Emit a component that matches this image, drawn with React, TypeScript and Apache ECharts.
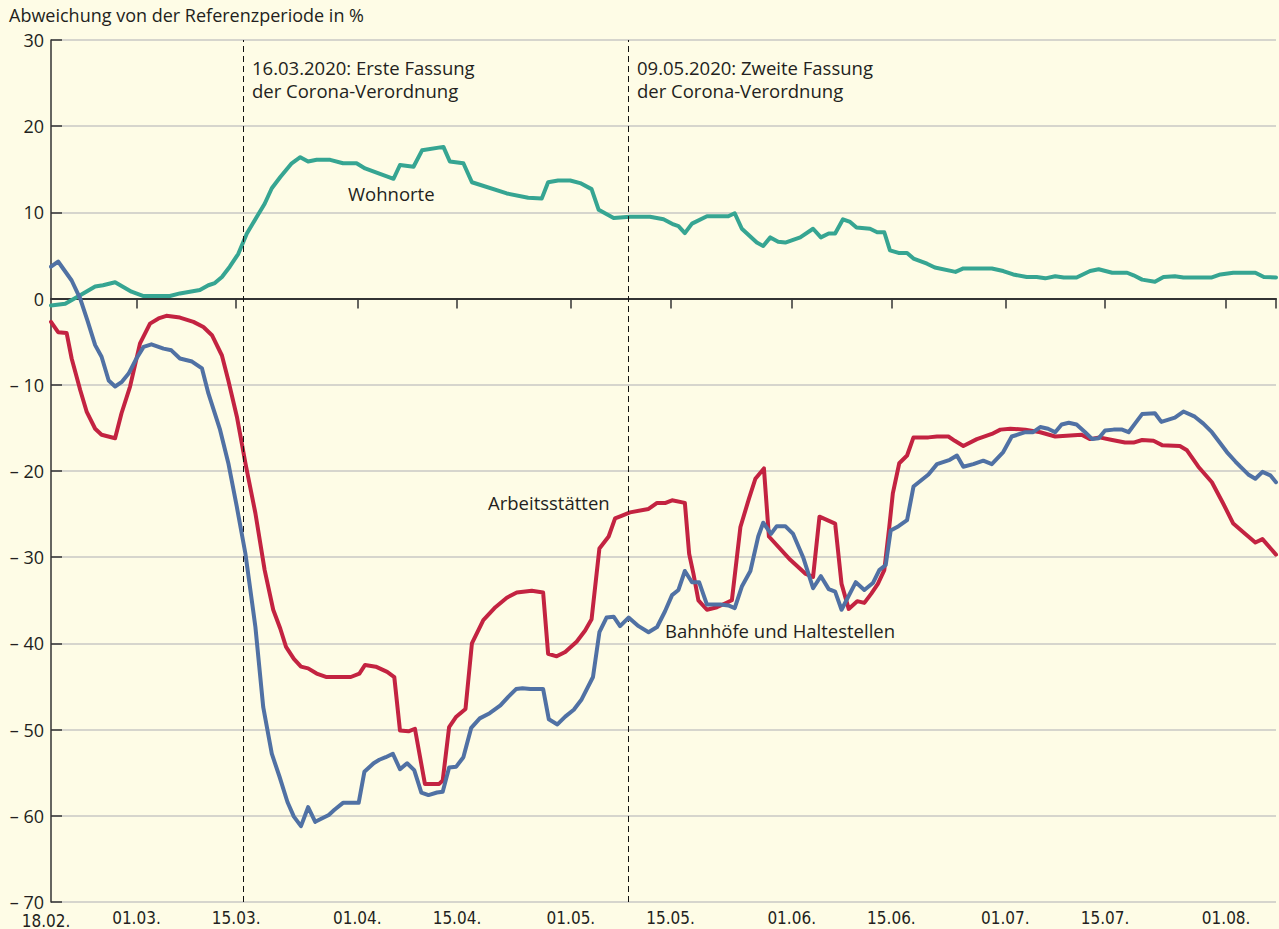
import React, { useEffect, useRef } from "react";
import * as echarts from "echarts";

// x = days since 18.02.2020
const tickDays = [0, 12, 26, 43, 57, 73, 87, 104, 118, 134, 148, 165];
const tickLabels = ["18.02.", "01.03.", "15.03.", "01.04.", "15.04.", "01.05.", "15.05.", "01.06.", "15.06.", "01.07.", "15.07.", "01.08."];
const xMax = 172; // 08.08.
const eventDays = [27, 81]; // 16.03.2020, 09.05.2020
const eventTexts = [
  "16.03.2020: Erste Fassung\nder Corona-Verordnung",
  "09.05.2020: Zweite Fassung\nder Corona-Verordnung",
];
const seriesNames = ["Wohnorte", "Arbeitsstätten", "Bahnhöfe und Haltestellen"];
const yTicks = [-70, -60, -50, -40, -30, -20, -10, 0, 10, 20, 30];

const wohnorte: [number, number][] = [
  [0, -0.8], [2, -0.6], [4.1, 0.4], [6.2, 1.4], [7.3, 1.55], [9, 1.9], [11.3, 0.8], [13, 0.3], [16.7, 0.3], [18.1, 0.6],
  [20.9, 1.0], [22.1, 1.55], [23, 1.8], [24, 2.5], [25.1, 3.7], [26.3, 5.2], [27.5, 7.55], [28.9, 9.5], [30, 11.0], [31, 12.8],
  [32.2, 14.1], [33.8, 15.7], [35, 16.4], [36.1, 15.9], [37.3, 16.1], [39.2, 16.1], [41, 15.7], [42.9, 15.7], [44.1, 15.1], [48.1, 13.9],
  [49, 15.5], [50.9, 15.3], [52.1, 17.2], [55.1, 17.6], [56, 15.9], [57.9, 15.7], [59.1, 13.5], [64, 12.2], [67, 11.7], [68.9, 11.6],
  [69.8, 13.5], [71.2, 13.7], [72.9, 13.7], [74.3, 13.4], [75.9, 12.7], [76.9, 10.3], [79, 9.35], [81.3, 9.5], [84.1, 9.5], [86, 9.2],
  [87.4, 8.6], [88.1, 8.4], [89, 7.6], [90, 8.7], [92.1, 9.55], [95.1, 9.55], [96, 9.9], [97, 8.1], [99.1, 6.5], [100, 6.1],
  [101, 7.1], [102.1, 6.6], [103.1, 6.5], [105.2, 7.1], [107, 8.1], [108.1, 7.1], [109.2, 7.55], [110.1, 7.55], [111.2, 9.2], [112.2, 8.9],
  [113.1, 8.25], [115, 8.1], [116, 7.7], [117, 7.7], [117.8, 5.6], [119, 5.3], [120.2, 5.3], [121.1, 4.65], [123, 4.05], [124.1, 3.6],
  [127, 3.1], [128.1, 3.5], [132.1, 3.5], [133.7, 3.2], [135.1, 2.8], [137, 2.5], [138.4, 2.5], [139.6, 2.35], [141, 2.6], [142.2, 2.45],
  [144, 2.45], [145.9, 3.2], [147.1, 3.4], [149, 3.0], [151.1, 3.0], [152, 2.7], [153.2, 2.2], [155, 1.95], [156.2, 2.5], [157.8, 2.6],
  [159, 2.45], [163, 2.45], [164.2, 2.8], [166, 3.0], [169.1, 3.0], [170.3, 2.5], [172, 2.45],
];

const arbeitsstaetten: [number, number][] = [
  [0, -2.7], [1, -3.9], [2.2, -4.0], [2.9, -6.95], [4.1, -10.6], [5, -13.1], [6.2, -15.1], [7.1, -15.8], [9, -16.2], [9.9, -13.3],
  [11.1, -10.2], [12.5, -5.2], [13.9, -2.9], [15.1, -2.3], [16.2, -2.0], [18.1, -2.2], [20, -2.7], [21.4, -3.3], [22.6, -4.25], [24, -6.6],
  [24.9, -9.5], [26.1, -13.7], [27.3, -19.1], [28.7, -24.9], [30, -31.5], [31.2, -36.1], [32.2, -38.3], [33, -40.4], [34.1, -41.8], [35.1, -42.7],
  [36.1, -42.9], [37.3, -43.5], [38.7, -43.9], [42.1, -43.9], [43.3, -43.5], [44.1, -42.5], [45.6, -42.7], [47.2, -43.3], [48.2, -43.9], [49, -50.1],
  [50.2, -50.2], [51.1, -49.9], [52.5, -56.3], [54.5, -56.3], [55, -55.9], [55.9, -49.7], [56.9, -48.5], [58.2, -47.6], [59.1, -40.0], [60.7, -37.3],
  [62.4, -35.8], [64, -34.7], [65.4, -34.1], [67.5, -33.9], [69.1, -34.1], [69.8, -41.2], [71, -41.5], [72.2, -41.0], [73.8, -39.8], [75, -38.5],
  [75.9, -37.2], [77, -29.0], [78.3, -27.6], [79.2, -25.5], [80.1, -25.2], [81.3, -24.8], [83.9, -24.4], [85.1, -23.7], [86.3, -23.7], [87.2, -23.4],
  [89, -23.7], [89.6, -29.6], [90.2, -31.9], [90.9, -35.0], [92.1, -36.1], [93.5, -35.8], [95.6, -35.0], [96.8, -26.5], [98, -23.2], [98.9, -20.9],
  [100.1, -19.7], [100.8, -27.6], [103.8, -30.3], [105.9, -31.9], [107, -32.3], [107.9, -25.3], [110.1, -26.1], [111, -33.1], [112, -36.0], [113.2, -35.1],
  [114.2, -35.3], [115.2, -34.2], [116.1, -33.1], [117, -31.5], [117.7, -26.5], [118.2, -22.6], [119.1, -19.1], [120.2, -18.2], [121.1, -16.1], [123.2, -16.1],
  [124.4, -16.0], [126, -16.0], [126.9, -16.5], [128.1, -17.1], [130, -16.3], [132.1, -15.7], [133.3, -15.2], [134.7, -15.1], [136.8, -15.2], [138.9, -15.5],
  [141, -16.0], [144.7, -15.8], [145.9, -16.3], [147.2, -16.1], [149, -16.4], [150.8, -16.7], [152, -16.7], [153.2, -16.4], [154.8, -16.5], [156, -17.0],
  [158.5, -17.1], [159.5, -17.6], [161.1, -19.5], [163, -21.3], [164.6, -23.8], [166, -26.1], [167.7, -27.3], [169.1, -28.3], [170.1, -27.9], [172, -29.7],
];

const bahnhoefe: [number, number][] = [
  [0, 3.7], [1, 4.3], [2.9, 2.1], [4.1, 0], [5.1, -2.5], [6.2, -5.4], [7.1, -6.75], [8.1, -9.5], [9, -10.2], [9.9, -9.7],
  [10.9, -8.7], [12, -6.95], [13, -5.6], [14.1, -5.3], [15.8, -5.8], [16.9, -6.0], [18.1, -6.95], [19.8, -7.3], [21.2, -8.1], [22.1, -11.0],
  [23.7, -15.1], [24.9, -19.1], [26.1, -24.2], [27.3, -29.6], [28.7, -38.1], [29.8, -47.4], [31, -52.8], [32.1, -55.5], [33.2, -58.4], [34.1, -60.1],
  [35.1, -61.2], [36.1, -59.0], [37.1, -60.7], [39, -59.9], [39.8, -59.3], [41, -58.5], [43.2, -58.5], [44, -54.9], [45.3, -53.9], [46.1, -53.5],
  [47, -53.2], [48, -52.8], [49, -54.6], [50, -53.9], [51, -54.7], [52, -57.3], [53, -57.6], [54.2, -57.3], [55, -57.2], [55.9, -54.4],
  [56.9, -54.3], [57.9, -53.2], [59, -49.8], [60.2, -48.7], [61.6, -48.1], [63.1, -47.2], [64.2, -46.2], [65.3, -45.3], [66.2, -45.2], [67.3, -45.3],
  [69.1, -45.3], [69.9, -48.8], [71.1, -49.4], [72.2, -48.5], [73.4, -47.7], [74.5, -46.5], [76.1, -43.9], [77, -38.7], [78, -37.0], [79, -36.9],
  [79.9, -38.0], [81.1, -37.0], [82.5, -38.0], [83.9, -38.7], [85.1, -38.1], [86.2, -36.3], [87.2, -34.4], [88.1, -33.8], [89, -31.6], [90, -32.9],
  [91, -32.9], [92.1, -35.5], [94, -35.5], [95.1, -35.6], [96, -35.9], [97, -33.4], [98.2, -31.6], [99.3, -27.6], [100, -26.0], [101.1, -27.3],
  [101.9, -26.4], [103.1, -26.4], [104.2, -27.3], [105.6, -30.0], [107, -33.6], [108.1, -32.2], [109.2, -33.7], [110.1, -34.0], [111, -36.1], [113, -32.9],
  [114.2, -33.8], [115.4, -33.0], [116.3, -31.5], [117.2, -30.9], [117.9, -26.9], [119, -26.4], [120.2, -25.7], [121.1, -21.8], [123.2, -20.4], [124.4, -19.2],
  [126.2, -18.7], [127.2, -18.2], [128.1, -19.5], [129.5, -19.2], [130.9, -18.8], [132.1, -19.2], [133.7, -17.8], [134.9, -16.0], [136.8, -15.5], [137.9, -15.5],
  [138.9, -14.9], [140, -15.1], [141, -15.5], [141.9, -14.6], [142.9, -14.4], [144, -14.6], [145.2, -15.5], [146.2, -16.3], [147.1, -16.2], [148, -15.3],
  [149.2, -15.2], [150.4, -15.2], [151.3, -15.5], [152.2, -14.5], [153.2, -13.4], [155, -13.3], [155.9, -14.3], [157.8, -13.8], [159, -13.1], [160.6, -13.7],
  [161.8, -14.5], [163, -15.5], [164.2, -16.8], [165.1, -17.8], [166.3, -18.9], [167, -19.5], [168.1, -20.4], [169.1, -20.9], [170.1, -20.1], [171.2, -20.5],
  [172, -21.3],
];

const FONT = "'Open Sans', 'Noto Sans', sans-serif";
const NARROW = "'Liberation Sans Narrow', 'DejaVu Sans Condensed', sans-serif";
const TEXT = "#231f20";
const BG = "#fefce6";

export default function App() {
  const ref = useRef<HTMLDivElement>(null);
  useEffect(() => {
    if (!ref.current) return;
    const chart = echarts.init(ref.current, null, { renderer: "svg" });
    const labelFor = (v: number) => {
      const i = tickDays.indexOf(v);
      if (i < 0) return "";
      return i === 0 ? "{first|" + tickLabels[i] + "}" : tickLabels[i];
    };
    const lineSeries = (name: string, data: [number, number][], color: string, z: number, extra: any = {}) => ({
      type: "line",
      name,
      data,
      showSymbol: false,
      symbol: "none",
      z,
      lineStyle: { color, width: 4, join: "round", cap: "round" },
      ...extra,
    });
    const txt = (s: string) => ({ text: s, font: "18.5px " + FONT, fill: TEXT, lineHeight: 23 });
    chart.setOption({
      animation: false,
      backgroundColor: BG,
      textStyle: { fontFamily: FONT },
      title: {
        text: "Abweichung von der Referenzperiode in %",
        left: 9,
        top: 6,
        padding: 0,
        textStyle: { fontSize: 18, fontWeight: "normal", color: TEXT, fontFamily: FONT },
      },
      grid: { left: 51, right: 3, top: 40, bottom: 26 },
      xAxis: [
        {
          type: "value",
          min: 0,
          max: xMax,
          position: "bottom",
          axisLine: { show: false, onZero: false },
          axisTick: { show: false },
          splitLine: { show: false },
          axisLabel: {
            customValues: tickDays,
            formatter: labelFor,
            margin: 8,
            fontSize: 17,
            lineHeight: 16,
            color: TEXT,
            fontFamily: NARROW,
            rich: { first: { padding: [5, 10, 0, 0], fontSize: 17, lineHeight: 16, color: TEXT, fontFamily: NARROW } },
          },
        },
        {
          type: "value",
          min: 0,
          max: xMax,
          position: "bottom",
          axisLine: { show: true, onZero: true, lineStyle: { color: "#333", width: 2 } },
          axisTick: { show: true, customValues: [...tickDays.slice(1), xMax], length: 10, lineStyle: { color: "#333", width: 1.5 } },
          axisLabel: { show: false },
          splitLine: { show: false },
        },
      ],
      yAxis: {
        type: "value",
        min: -70,
        max: 30,
        interval: 10,
        axisLine: { show: true, onZero: false, lineStyle: { color: "#333", width: 1.5 } },
        axisTick: { show: true, inside: true, length: 11, lineStyle: { color: "#333", width: 1.5 } },
        splitLine: { show: true, lineStyle: { color: "#c8c8c4", width: 1.5 } },
        axisLabel: {
          margin: 7,
          fontSize: 18,
          lineHeight: 16,
          color: TEXT,
          fontFamily: FONT,
          formatter: (v: number) => (yTicks.includes(v) ? (v < 0 ? "– " + Math.abs(v) : String(v)) : ""),
        },
      },
      series: [
        lineSeries(seriesNames[0], wohnorte, "#36a592", 3),
        lineSeries(seriesNames[1], arbeitsstaetten, "#c32341", 4, {
          markLine: {
            silent: true,
            symbol: ["none", "none"],
            label: { show: false },
            lineStyle: { color: "#111", type: [6, 4], width: 1 },
            data: eventDays.map((d) => ({ xAxis: d })),
          },
        }),
        lineSeries(seriesNames[2], bahnhoefe, "#5071a4", 5),
      ],
      graphic: [
        { type: "text", left: 252, top: 56, style: txt(eventTexts[0]) },
        { type: "text", left: 637, top: 56, style: txt(eventTexts[1]) },
        { type: "text", left: 348, top: 182, style: txt(seriesNames[0]) },
        { type: "text", left: 488, top: 491, style: txt(seriesNames[1]) },
        { type: "text", left: 665, top: 619, style: txt(seriesNames[2]) },
      ],
    });
    return () => chart.dispose();
  }, []);
  return (
    <div
      ref={ref}
      style={{ position: "fixed", left: 0, top: 0, width: 1279, height: 929, background: BG }}
    />
  );
}
